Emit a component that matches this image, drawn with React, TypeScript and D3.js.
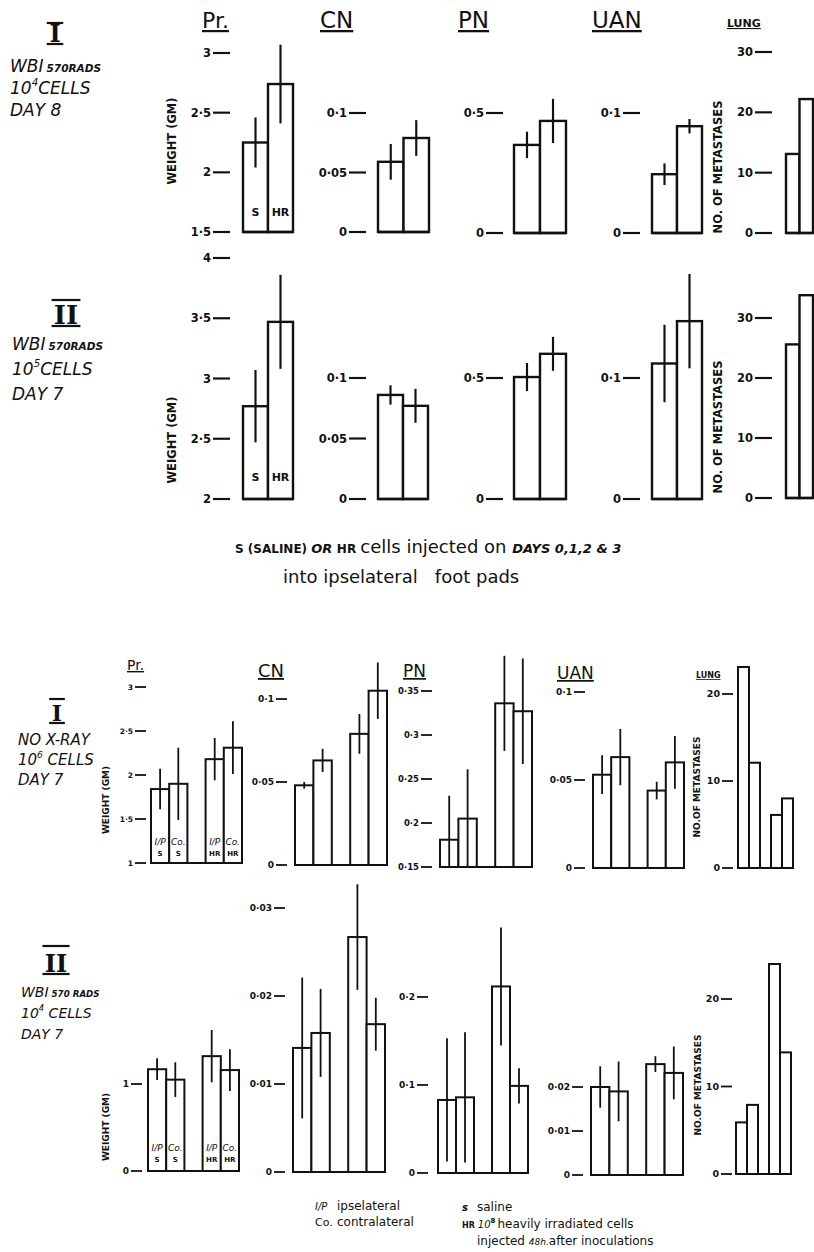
import * as d3 from 'd3';

// ─── Data: upper figure (bars: S, HR) ───────────────────────
const prTopI = [2.25, 2.74];
const prTopIErr = [0.21, 0.33];
const cnTopI = [0.059, 0.079];
const cnTopIErr = [0.015, 0.015];
const pnTopI = [0.367, 0.467];
const pnTopIErr = [0.055, 0.092];
const uanTopI = [0.049, 0.089];
const uanTopIErr = [0.009, 0.006];
const lungTopI = [13.1, 22.2];

const prTopII = [2.77, 3.47];
const prTopIIErr = [0.3, 0.39];
const cnTopII = [0.086, 0.077];
const cnTopIIErr = [0.008, 0.014];
const pnTopII = [0.504, 0.6];
const pnTopIIErr = [0.058, 0.07];
const uanTopII = [0.112, 0.147];
const uanTopIIErr = [0.032, 0.039];
const lungTopII = [25.6, 33.8];

// ─── Data: lower figure (bars: I/P S, Co S, I/P HR, Co HR) ──
const botSite = ['I/P', 'Co.', 'I/P', 'Co.'];
const botTreat = ['S', 'S', 'HR', 'HR'];

const prBotI = [1.84, 1.9, 2.18, 2.31];
const prBotIErr = [0.23, 0.41, 0.24, 0.3];
const cnBotI = [0.048, 0.063, 0.079, 0.105];
const cnBotIErr = [0.002, 0.007, 0.012, 0.017];
const pnBotI = [0.181, 0.205, 0.336, 0.327];
const pnBotIErr = [0.05, 0.056, 0.054, 0.06];
const uanBotI = [0.053, 0.063, 0.044, 0.06];
const uanBotIErr = [0.011, 0.016, 0.005, 0.015];
const lungBotI = [23.1, 12.1, 6.1, 8.0];

const prBotII = [1.17, 1.05, 1.32, 1.16];
const prBotIIErr = [0.125, 0.2, 0.3, 0.24];
const cnBotII = [0.0141, 0.0158, 0.0267, 0.0168];
const cnBotIIErr = [0.008, 0.005, 0.006, 0.003];
const pnBotII = [0.083, 0.086, 0.212, 0.099];
const pnBotIIErr = [0.07, 0.074, 0.067, 0.02];
const uanBotII = [0.02, 0.019, 0.0252, 0.0232];
const uanBotIIErr = [0.0047, 0.0068, 0.0018, 0.006];
const lungBotII = [5.9, 7.9, 24, 13.9];

// ─── Tick values ─────────────────────────────────────────────
const prTopITicks = [1.5, 2, 2.5, 3];
const prTopIITicks = [2, 2.5, 3, 3.5, 4];
const cnTopTicks = [0, 0.05, 0.1];
const pnTopTicks = [0, 0.5];
const uanTopTicks = [0, 0.1];
const lungTopTicks = [0, 10, 20, 30];

const prBotITicks = [1, 1.5, 2, 2.5, 3];
const cnBotITicks = [0, 0.05, 0.1];
const pnBotITicks = [0.15, 0.2, 0.25, 0.3, 0.35];
const uanBotITicks = [0, 0.05, 0.1];
const lungBotTicks = [0, 10, 20];
const prBotIITicks = [0, 1];
const cnBotIITicks = [0, 0.01, 0.02, 0.03];
const pnBotIITicks = [0, 0.1, 0.2];
const uanBotIITicks = [0, 0.01, 0.02];

const INK = '#111';
const FONT = 'DejaVu Sans';

type PanelSpec = {
  values: number[];
  errors?: number[];
  ticks: number[];
  slots: number[];
  nSlots: number;
  x0: number;
  x1: number;
  yLo: number; // pixel of lowest tick
  yHi: number; // pixel of highest tick
  dashLen: number;
  dashGap: number;
  font: number;
  stroke: number;
};

const fmt = (v: number) => (v === 0 ? '0' : String(+v.toFixed(3)).replace('.', '·'));

function top(values: number[], errors: number[] | undefined, ticks: number[], x0: number, x1: number, yLo: number, yHi: number, dashGap = 12): PanelSpec {
  return { values, errors, ticks, slots: [0, 1], nSlots: 2, x0, x1, yLo, yHi, dashLen: 17, dashGap, font: 11.5, stroke: 2.4 };
}
function bot(values: number[], errors: number[] | undefined, ticks: number[], x0: number, x1: number, yLo: number, yHi: number, dashGap = 7, font = 8.5): PanelSpec {
  return { values, errors, ticks, slots: [0, 1, 3, 4], nSlots: 5, x0, x1, yLo, yHi, dashLen: 11, dashGap, font, stroke: 2 };
}

const panels: PanelSpec[] = [
  top(prTopI, prTopIErr, prTopITicks, 243, 293, 232, 53, 13),
  top(cnTopI, cnTopIErr, cnTopTicks, 378, 429, 232, 113),
  top(pnTopI, pnTopIErr, pnTopTicks, 514, 566, 233, 113, 11),
  top(uanTopI, uanTopIErr, uanTopTicks, 652, 702, 233, 113),
  top(lungTopI, undefined, lungTopTicks, 786, 813, 233, 52, 14),

  top(prTopII, prTopIIErr, prTopIITicks, 243, 293, 499, 258, 13),
  top(cnTopII, cnTopIIErr, cnTopTicks, 378, 428, 499, 378),
  top(pnTopII, pnTopIIErr, pnTopTicks, 514, 566, 499, 378, 11),
  top(uanTopII, uanTopIIErr, uanTopTicks, 652, 702, 499, 378),
  top(lungTopII, undefined, lungTopTicks, 786, 813, 498, 318, 14),

  bot(prBotI, prBotIErr, prBotITicks, 151, 242, 863, 687, 5, 7.5),
  bot(cnBotI, cnBotIErr, cnBotITicks, 295, 387, 865, 699, 8, 9),
  bot(pnBotI, pnBotIErr, pnBotITicks, 440, 532, 867, 691, 8, 8.5),
  bot(uanBotI, uanBotIErr, uanBotITicks, 593, 684, 868, 692, 8, 9),
  bot(lungBotI, undefined, lungBotTicks, 738, 793, 868, 694, 5, 9.5),

  bot(prBotII, prBotIIErr, prBotIITicks, 148, 239, 1171, 1084, 6, 9),
  bot(cnBotII, cnBotIIErr, cnBotIITicks, 293, 385, 1172, 908, 8, 9),
  bot(pnBotII, pnBotIIErr, pnBotIITicks, 438, 528, 1173, 997, 10, 9),
  bot(uanBotII, uanBotIIErr, uanBotIITicks, 591, 683, 1175, 1087, 8, 9),
  bot(lungBotII, undefined, lungBotTicks, 736, 791, 1174, 999, 4, 9.5),
];

function Panel({ p }: { p: PanelSpec }) {
  const [lo, hi] = d3.extent(p.ticks) as [number, number];
  const y = d3.scaleLinear().domain([lo, hi]).range([p.yLo, p.yHi]);
  const x = d3.scaleBand<number>().domain(d3.range(p.nSlots)).range([p.x0, p.x1]);
  const base = y(lo);
  const dashEnd = p.x0 - p.dashGap;
  const clamp = (v: number) => Math.max(lo, v);
  return (
    <g>
      {p.ticks.map((t) => (
        <g key={t}>
          <line x1={dashEnd - p.dashLen} x2={dashEnd} y1={y(t)} y2={y(t)} stroke={INK} strokeWidth={p.stroke * 0.9} />
          <text x={dashEnd - p.dashLen - 2} y={y(t)} dy="0.36em" textAnchor="end" fontSize={p.font} fontWeight="bold" fill={INK}>
            {fmt(t)}
          </text>
        </g>
      ))}
      {p.values.map((v, i) => (
        <rect key={i} x={x(p.slots[i])} y={y(v)} width={x.bandwidth()} height={base - y(v)} fill="#fff" stroke={INK} strokeWidth={p.stroke} />
      ))}
      <line x1={p.x0} x2={p.x1} y1={base} y2={base} stroke={INK} strokeWidth={p.stroke} />
      {p.errors &&
        p.values.map((v, i) => {
          const cx = (x(p.slots[i]) as number) + x.bandwidth() / 2;
          const e = p.errors![i];
          return <line key={'e' + i} x1={cx} x2={cx} y1={y(v + e)} y2={y(clamp(v - e))} stroke={INK} strokeWidth={p.stroke * 0.9} />;
        })}
    </g>
  );
}

function Header({ x, y, text, size, bold = false }: { x: number; y: number; text: string; size: number; bold?: boolean }) {
  return (
    <text x={x} y={y} fontSize={size} fontWeight={bold ? 'bold' : 'normal'} fill={INK} style={{ textDecoration: 'underline' }}>
      {text}
    </text>
  );
}

function Roman({ cx, yTop, yBot, text, size }: { cx: number; yTop: number; yBot: number; text: string; size: number }) {
  const half = text.length * size * 0.22 + 3;
  return (
    <g>
      <line x1={cx - half} x2={cx + half} y1={yTop} y2={yTop} stroke={INK} strokeWidth={2.2} />
      <text x={cx} y={yBot - 1} textAnchor="middle" fontSize={size} fontFamily="DejaVu Serif" fontWeight="bold" fill={INK}>
        {text}
      </text>
      <line x1={cx - half} x2={cx + half} y1={yBot + 1} y2={yBot + 1} stroke={INK} strokeWidth={2.2} />
    </g>
  );
}

function YLabel({ x, cy, text, size }: { x: number; cy: number; text: string; size: number }) {
  return (
    <text transform={`translate(${x},${cy}) rotate(-90)`} textAnchor="middle" dy="0.35em" fontSize={size} fontWeight="bold" fill={INK}>
      {text}
    </text>
  );
}

function Cond({ x, y, lines, size, gap }: { x: number; y: number; lines: [string, string, string, string, string]; size: number; gap: number }) {
  const [wbi, rads, ten, exp, day] = lines;
  return (
    <g fontStyle="italic" fill={INK}>
      <text x={x} y={y} fontSize={size}>
        {wbi}
        <tspan fontSize={size * 0.62} fontWeight="bold" dx={3}>{rads}</tspan>
      </text>
      <text x={x} y={y + gap} fontSize={size}>
        10
        <tspan fontSize={size * 0.6} dy={-size * 0.5}>{exp}</tspan>
        <tspan dy={size * 0.5}>{ten}</tspan>
      </text>
      <text x={x} y={y + gap * 2} fontSize={size}>
        {day}
      </text>
    </g>
  );
}

export default function App() {
  const topBarLabel = (p: PanelSpec, yb: number) => {
    const x = d3.scaleBand<number>().domain(d3.range(p.nSlots)).range([p.x0, p.x1]);
    return ['S', 'HR'].map((s, i) => (
      <text key={s} x={(x(i) as number) + x.bandwidth() / 2} y={yb} textAnchor="middle" fontSize={11} fontWeight="bold" fill={INK}>
        {s}
      </text>
    ));
  };
  const botBarLabel = (p: PanelSpec, yb: number) => {
    const x = d3.scaleBand<number>().domain(d3.range(p.nSlots)).range([p.x0, p.x1]);
    return p.slots.map((s, i) => (
      <g key={i}>
        <text x={(x(s) as number) + x.bandwidth() / 2} y={yb} textAnchor="middle" fontSize={9} fontStyle="italic" fill={INK}>
          {botSite[i]}
        </text>
        <text x={(x(s) as number) + x.bandwidth() / 2} y={yb + 11} textAnchor="middle" fontSize={7} fontWeight="bold" fill={INK}>
          {botTreat[i]}
        </text>
      </g>
    ));
  };

  return (
    <svg width={814} height={1252} style={{ position: 'absolute', left: 0, top: 0, background: '#fff' }} fontFamily={FONT}>
      <rect width={814} height={1252} fill="#fff" />

      {/* upper figure headers */}
      <Header x={202} y={28} text="Pr." size={22} />
      <Header x={320} y={28} text="CN" size={23} />
      <Header x={458} y={28} text="PN" size={23} />
      <Header x={592} y={28} text="UAN" size={23} />
      <Header x={727} y={27} text="LUNG" size={11} bold />

      <Roman cx={55} yTop={23} yBot={43} text="I" size={24} />
      <Cond x={10} y={72} gap={22} size={17} lines={['WBI', '570RADS', 'CELLS', '4', 'DAY 8']} />
      <Roman cx={66} yTop={300} yBot={325} text="II" size={26} />
      <Cond x={12} y={350} gap={25} size={17} lines={['WBI', '570RADS', 'CELLS', '5', 'DAY 7']} />

      <YLabel x={172} cy={141} text="WEIGHT (GM)" size={11.5} />
      <YLabel x={172} cy={440} text="WEIGHT (GM)" size={11.5} />
      <YLabel x={718} cy={167} text="NO. OF METASTASES" size={11.5} />
      <YLabel x={718} cy={427} text="NO. OF METASTASES" size={11.5} />

      {panels.map((p, i) => (
        <Panel key={i} p={p} />
      ))}

      {topBarLabel(panels[0], 216)}
      {topBarLabel(panels[5], 481)}

      {/* caption of upper figure */}
      <text x={235} y={553} fill={INK}>
        <tspan fontSize={12} fontWeight="bold">S (SALINE) </tspan>
        <tspan fontSize={13} fontWeight="bold" fontStyle="italic">OR </tspan>
        <tspan fontSize={12} fontWeight="bold">HR </tspan>
        <tspan fontSize={18}>cells injected on </tspan>
        <tspan fontSize={13} fontWeight="bold" fontStyle="italic">DAYS 0,1,2 &amp; 3</tspan>
      </text>
      <text x={283} y={583} fontSize={18} fill={INK} xmlSpace="preserve">
        into ipselateral   foot pads
      </text>

      {/* lower figure headers */}
      <Header x={127} y={670} text="Pr." size={14} />
      <Header x={258} y={677} text="CN" size={18} />
      <Header x={403} y={677} text="PN" size={17} />
      <Header x={557} y={679} text="UAN" size={17} />
      <Header x={696} y={678} text="LUNG" size={8} bold />

      <Roman cx={57} yTop={699} yBot={722} text="I" size={22} />
      <g fontStyle="italic" fill={INK} fontSize={15}>
        <text x={18} y={745}>NO X-RAY</text>
        <text x={18} y={765}>
          10<tspan fontSize={9} dy={-7}>6</tspan>
          <tspan dy={7}> CELLS</tspan>
        </text>
        <text x={18} y={785}>DAY 7</text>
      </g>
      <Roman cx={56} yTop={946} yBot={973} text="II" size={24} />
      <Cond x={21} y={997} gap={21} size={14} lines={['WBI', '570 RADS', ' CELLS', '4', 'DAY 7']} />

      <YLabel x={106} cy={800} text="WEIGHT (GM)" size={9} />
      <YLabel x={106} cy={1127} text="WEIGHT (GM)" size={9} />
      <YLabel x={697} cy={787} text="NO.OF METASTASES" size={9} />
      <YLabel x={698} cy={1085} text="NO.OF METASTASES" size={9} />

      {botBarLabel(panels[10], 845)}
      {botBarLabel(panels[15], 1151)}

      {/* legend of lower figure */}
      <g fill={INK} fontSize={12}>
        <text x={315} y={1210}>
          <tspan fontStyle="italic" fontSize={10}>I/P</tspan>
          <tspan x={337}>ipselateral</tspan>
        </text>
        <text x={315} y={1226}>
          <tspan fontSize={11}>Co.</tspan>
          <tspan x={337}>contralateral</tspan>
        </text>
        <text x={462} y={1211}>
          <tspan fontStyle="italic" fontWeight="bold" fontSize={10}>s</tspan>
          <tspan x={477}>saline</tspan>
        </text>
        <text x={462} y={1228}>
          <tspan fontWeight="bold" fontSize={8}>HR</tspan>
          <tspan fontStyle="italic" fontSize={10} dx={3}>10</tspan>
          <tspan fontSize={7} dy={-5} fontWeight="bold">8</tspan>
          <tspan dy={5} dx={2}>heavily irradiated cells</tspan>
        </text>
        <text x={477} y={1245}>
          injected <tspan fontStyle="italic" fontSize={9}>48h.</tspan>after inoculations
        </text>
      </g>
    </svg>
  );
}
